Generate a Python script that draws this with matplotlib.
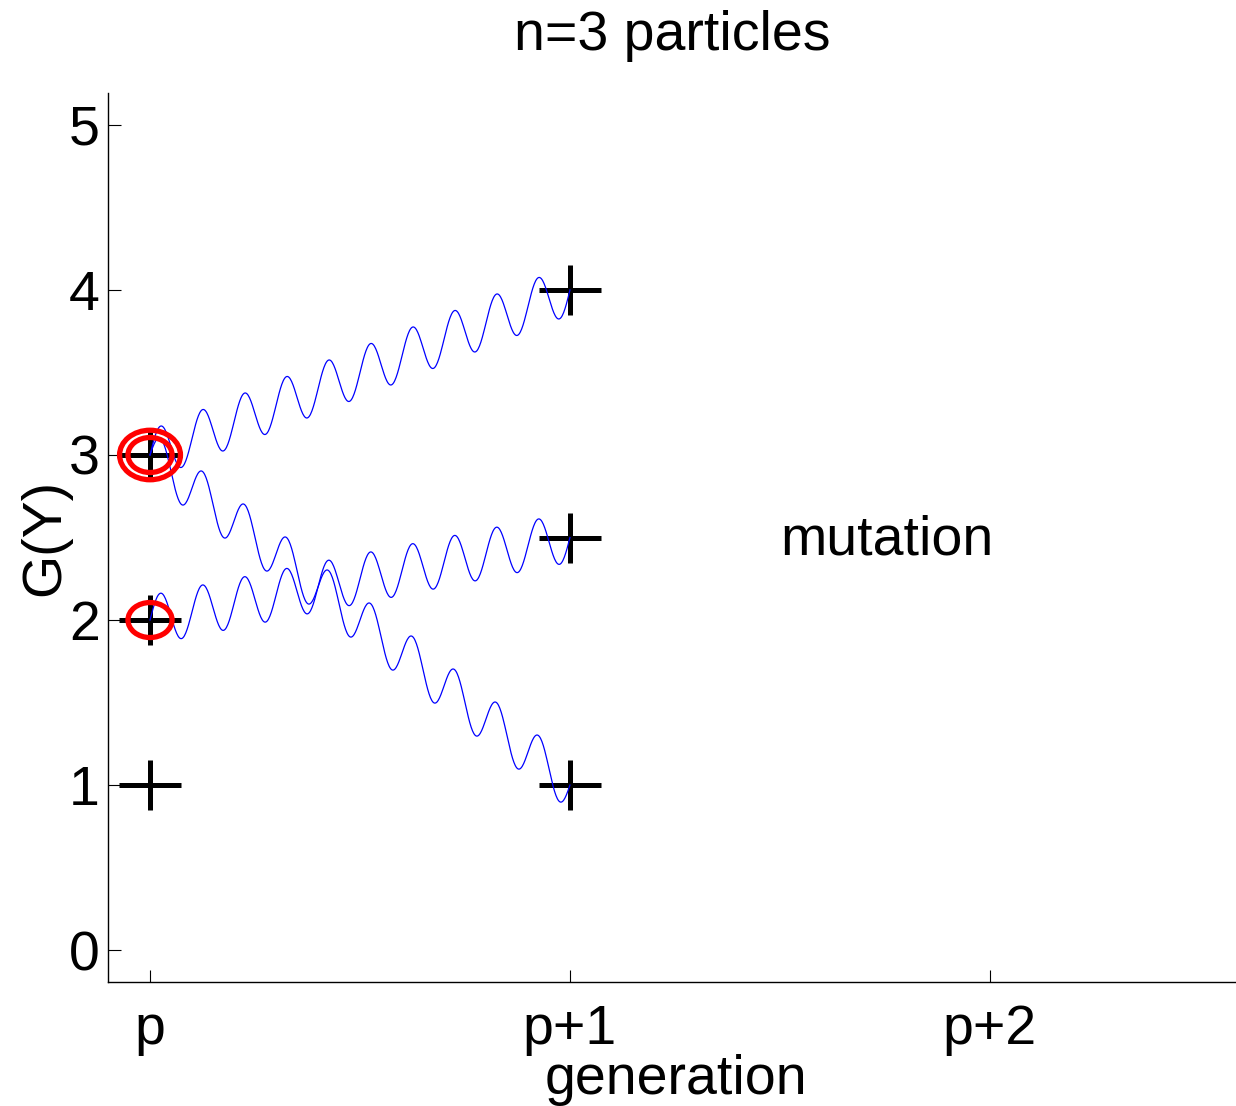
import numpy as np
import matplotlib
matplotlib.use('Agg')
import matplotlib.pyplot as plt
from matplotlib.patches import Ellipse
from matplotlib.path import Path

plt.rcParams['font.family'] = ['Liberation Sans', 'DejaVu Sans']

# particle positions (generation index, G(Y))
gen_p = [0, 0, 0]
fit_p = [1, 2, 3]
gen_next = [1, 1, 1]
fit_next = [4, 2.5, 1]

# mutation paths: start -> end
path_start = [(0, 3), (0, 3), (0, 2)]
path_end = [(1, 4), (1, 1), (1, 2.5)]
wiggle_amp = 0.15
wiggle_cycles = 10

# selected parents (red rings), repeated when chosen twice
ring_x = [0, 0, 0]
ring_y = [3, 3, 2]
ring_w = [0.105, 0.145, 0.105]
ring_h = [0.212, 0.30, 0.212]

xtick_pos = [0, 1, 2]
xtick_labels = ['p', 'p+1', 'p+2']
ytick_pos = [0, 1, 2, 3, 4, 5]

# plus marker a bit wider than tall, like the original
wide_plus = Path([(-1, 0), (1, 0), (0, -0.8), (0, 0.8)],
                 [Path.MOVETO, Path.LINETO, Path.MOVETO, Path.LINETO])

fig = plt.figure(figsize=(12.36, 11.06), dpi=100)
ax = fig.add_axes([0.0874, 0.112, 0.9126, 0.804])

t = np.linspace(0, 1, 600)
for (x0, y0), (x1, y1) in zip(path_start, path_end):
    xs = x0 + (x1 - x0) * t
    ys = y0 + (y1 - y0) * t + wiggle_amp * np.sin(2 * np.pi * wiggle_cycles * t)
    ax.plot(xs, ys, color='#0000ff', linewidth=0.9, zorder=3)

ax.plot(gen_p, fit_p, linestyle='none', marker=wide_plus, color='black',
        markersize=45, markeredgewidth=3.6, fillstyle='none', zorder=2)
ax.plot(gen_next, fit_next, linestyle='none', marker=wide_plus, color='black',
        markersize=45, markeredgewidth=3.6, fillstyle='none', zorder=2)

for x, y, w, h in zip(ring_x, ring_y, ring_w, ring_h):
    ax.add_patch(Ellipse((x, y), w, h, fill=False, edgecolor='red', linewidth=3.8, zorder=4))

ax.text(1.5, 2.48, 'mutation', fontsize=40, ha='left', va='center')

ax.set_xlim(-0.1, 2.586)
ax.set_ylim(-0.194, 5.194)
ax.set_xticks(xtick_pos)
ax.set_xticklabels(xtick_labels)
ax.set_yticks(ytick_pos)
ax.tick_params(direction='in', length=9, width=0.8, labelsize=40, pad=6)
ax.tick_params(axis='x', pad=16)
ax.spines['top'].set_visible(False)
ax.spines['right'].set_visible(False)
ax.spines['left'].set_linewidth(1.0)
ax.spines['bottom'].set_linewidth(1.0)

ax.set_xlabel('generation', fontsize=40)
ax.xaxis.set_label_coords(0.5035, -0.081, transform=ax.transAxes)
ax.xaxis.label.set_va('top')
ax.set_ylabel('G(Y)', fontsize=40, labelpad=-2)
ax.set_title('n=3 particles', fontsize=40, pad=31)

fig.savefig('out.png', dpi=100)
